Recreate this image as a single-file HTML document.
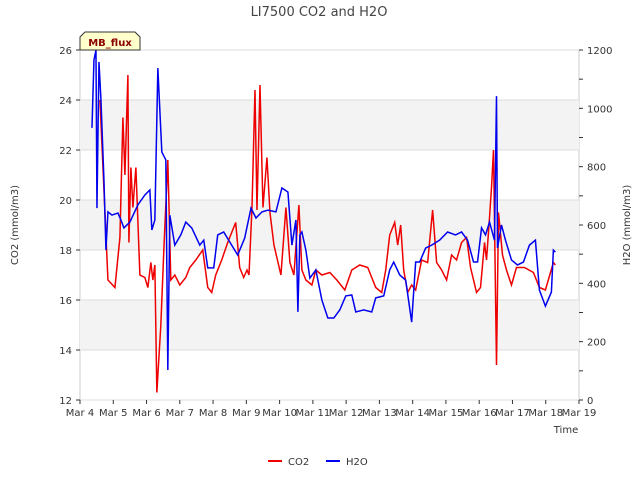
<!DOCTYPE html>
<html><head><meta charset="utf-8"><style>
body{margin:0;background:#fff;font-family:"DejaVu Sans","Liberation Sans",sans-serif}
svg text{font-family:"DejaVu Sans","Liberation Sans",sans-serif}
</style></head><body>
<svg id="c" width="640" height="480" xmlns="http://www.w3.org/2000/svg">
<text x="319" y="16" font-size="13" fill="#444" text-anchor="middle">LI7500 CO2 and H2O</text>
<g id="plot"></g>
<g>
<path d="M80,50 L80,37 L85,32 L135,32 L140,37 L140,50 Z" fill="#ffffcc" stroke="#333"/>
<text x="110" y="46" font-size="10" font-weight="bold" fill="#8b0000" text-anchor="middle">MB_flux</text>
</g>
<text x="566" y="433" font-size="10" fill="#333" text-anchor="middle">Time</text>
<text transform="translate(18,225) rotate(-90)" font-size="10" fill="#333" text-anchor="middle">CO2 (mmol/m3)</text>
<text transform="translate(630,225) rotate(-90)" font-size="10" fill="#333" text-anchor="middle">H2O (mmol/m3)</text>
<g>
<g><line x1="268" y1="461" x2="282" y2="461" stroke="#e00" stroke-width="2"/><text x="288" y="465" font-size="10" fill="#333">CO2</text></g>
<g><line x1="326" y1="461" x2="340" y2="461" stroke="#00e" stroke-width="2"/><text x="346" y="465" font-size="10" fill="#333">H2O</text></g>
</g>
</svg>
<script>
const xTickLabels=["Mar 4","Mar 5","Mar 6","Mar 7","Mar 8","Mar 9","Mar 10","Mar 11","Mar 12","Mar 13","Mar 14","Mar 15","Mar 16","Mar 17","Mar 18","Mar 19"];
const leftTicks=[12,14,16,18,20,22,24,26];
const rightTicks=[0,200,400,600,800,1000,1200];
const co2Days=[0.60,0.84,1.05,1.20,1.29,1.35,1.44,1.47,1.53,1.59,1.68,1.80,1.95,2.04,2.13,2.19,2.25,2.31,2.43,2.52,2.64,2.73,2.85,3.00,3.18,3.30,3.48,3.69,3.84,3.96,4.08,4.26,4.44,4.68,4.80,4.92,5.02,5.08,5.17,5.26,5.32,5.41,5.50,5.62,5.71,5.83,6.04,6.19,6.31,6.43,6.58,6.67,6.79,6.97,7.09,7.27,7.51,7.72,7.96,8.17,8.41,8.65,8.89,9.07,9.19,9.31,9.46,9.55,9.64,9.73,9.85,9.97,10.09,10.27,10.45,10.60,10.72,10.87,11.02,11.17,11.32,11.47,11.62,11.74,11.92,12.04,12.16,12.22,12.31,12.37,12.43,12.52,12.58,12.70,12.82,12.97,13.12,13.36,13.63,13.81,13.99,14.23,14.29];
const co2Values=[24,16.8,16.5,18.5,23.3,21,25,18.3,21.3,19.7,21.3,17,16.9,16.5,17.5,16.8,17.4,12.3,15,18,21.6,16.8,17,16.6,16.9,17.3,17.6,18,16.5,16.3,17,17.6,18.3,19.1,17.3,16.9,17.2,17,19.7,24.4,19.6,24.6,19.7,21.7,19.5,18.2,17,19.7,17.5,17,19.8,17.2,16.8,16.6,17.2,17,17.1,16.8,16.4,17.2,17.4,17.3,16.5,16.3,17.2,18.6,19.1,18.2,19,17.2,16.3,16.6,16.4,17.6,17.5,19.6,17.5,17.2,16.8,17.8,17.6,18.3,18.5,17.3,16.3,16.5,18.3,17.6,19.3,20.5,22,13.4,19.5,17.8,17.2,16.6,17.3,17.3,17.1,16.5,16.4,17.5,17.4];
const h2oDays=[0.36,0.42,0.48,0.51,0.57,0.63,0.72,0.78,0.84,0.96,1.14,1.23,1.32,1.50,1.74,1.95,2.10,2.16,2.25,2.34,2.46,2.58,2.64,2.70,2.85,3.03,3.18,3.36,3.60,3.72,3.84,4.02,4.14,4.32,4.50,4.74,4.95,5.14,5.29,5.47,5.65,5.89,6.07,6.25,6.37,6.49,6.55,6.61,6.67,6.79,6.91,7.09,7.27,7.45,7.63,7.81,7.99,8.17,8.29,8.53,8.77,8.89,9.13,9.31,9.43,9.61,9.79,9.97,10.09,10.21,10.39,10.57,10.81,11.05,11.29,11.47,11.65,11.83,11.95,12.07,12.19,12.31,12.46,12.52,12.55,12.67,12.79,12.97,13.15,13.33,13.51,13.69,13.81,13.99,14.17,14.23,14.29];
const h2oValues=[933,1166,1200,658,1159,1029,754,514,645,634,641,617,590,610,669,703,720,583,617,1138,850,823,103,634,531,566,610,590,531,548,453,453,566,576,542,497,555,658,624,645,651,645,727,713,531,617,302,566,576,514,418,446,343,281,281,309,357,360,302,309,302,350,357,446,473,429,411,267,473,473,521,531,548,576,566,576,548,473,473,590,566,610,548,1042,521,600,548,480,463,473,531,548,377,322,370,514,507];
const L=80,R=579,T=50,B=400;
const xs=d=>L+(R-L)*d/15;
const yl=v=>B-(B-T)*(v-12)/14;
const yr=v=>B-(B-T)*v/1200;
const NS="http://www.w3.org/2000/svg";
const g=document.getElementById('plot');
function mk(t,a){const e=document.createElementNS(NS,t);for(const k in a)e.setAttribute(k,a[k]);g.appendChild(e);return e;}
const bg=mk('rect',{x:L,y:T,width:R-L,height:B-T,fill:'#fff',stroke:'#ccc'});


for(let i=0;i<leftTicks.length-1;i++){
  if(i%2===1){const b=mk('rect',{x:L,y:yl(leftTicks[i+1]),width:R-L,height:yl(leftTicks[i])-yl(leftTicks[i+1]),fill:'#f3f3f3'});
  
  }
}
leftTicks.forEach(v=>{const y=yl(v);
  const gl=mk('line',{x1:L,x2:R,y1:y,y2:y,stroke:'#ddd'});
  
  
  mk('line',{x1:L-4,x2:L,y1:y,y2:y,stroke:'#333'});
  const t=mk('text',{x:L-8,y:y+4,'font-size':10,fill:'#333','text-anchor':'end'});t.textContent=v;
  
  
});
for(let v=0;v<=1200;v+=100){const y=yr(v);mk('line',{x1:R,x2:R+4,y1:y,y2:y,stroke:'#333'});}
rightTicks.forEach(v=>{const y=yr(v);
  const t=mk('text',{x:R+8,y:y+4,'font-size':10,fill:'#333'});t.textContent=v;
  
  
});
xTickLabels.forEach((s,i)=>{const x=xs(i);
  mk('line',{x1:x,x2:x,y1:B,y2:B+4,stroke:'#333'});
  const t=mk('text',{x:x,y:B+16,'font-size':10,fill:'#333','text-anchor':'middle'});t.textContent=s;
  
  
});
const p1=mk('polyline',{points:co2Days.map((d,i)=>xs(d)+','+yl(co2Values[i])).join(' '),fill:'none',stroke:'#e00','stroke-width':1.5});


const p2=mk('polyline',{points:h2oDays.map((d,i)=>xs(d)+','+yr(h2oValues[i])).join(' '),fill:'none',stroke:'#00e','stroke-width':1.5});


</script>
</body></html>
